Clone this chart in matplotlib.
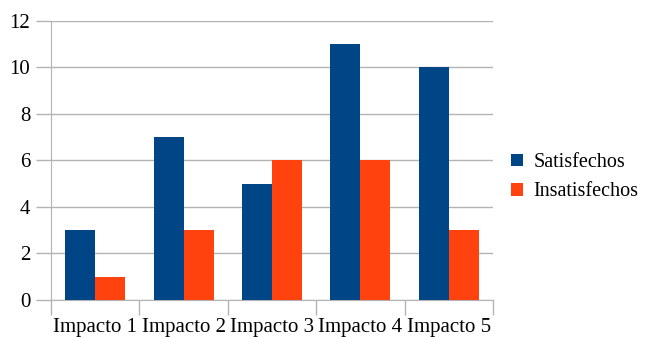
import matplotlib.pyplot as plt
import numpy as np

categories = ["Impacto 1", "Impacto 2", "Impacto 3", "Impacto 4", "Impacto 5"]
satisfechos = [3, 7, 5, 11, 10]
insatisfechos = [1, 3, 6, 6, 3]

plt.rcParams["font.family"] = ["Liberation Serif", "DejaVu Serif"]

fig = plt.figure(figsize=(6.47, 3.37), dpi=100)
ax = fig.add_axes([0.0788, 0.110, 0.683, 0.8277])

x = np.arange(len(categories))
w = 0.34
ax.bar(x - w / 2, satisfechos, w, color="#004586", label="Satisfechos", zorder=3)
ax.bar(x + w / 2, insatisfechos, w, color="#ff420e", label="Insatisfechos", zorder=3)

ax.set_xlim(-0.5, len(categories) - 0.5)
ax.set_ylim(0, 12)
ax.set_yticks(range(0, 13, 2))
ax.yaxis.grid(True, color="#b3b3b3", linewidth=1, zorder=0)

# category labels centered, boundary ticks below
ax.set_xticks(x)
ax.set_xticklabels(categories, fontsize=15)
ax.tick_params(axis="x", length=0, pad=13)
ax.set_xticks(np.arange(-0.5, len(categories), 1), minor=True)
ax.tick_params(axis="x", which="minor", length=11, color="#b3b3b3", width=1)
ax.tick_params(axis="y", length=11, color="#b3b3b3", width=1, labelsize=15, pad=4)

for s in ["top", "right"]:
    ax.spines[s].set_visible(False)
for s in ["left", "bottom"]:
    ax.spines[s].set_color("#b3b3b3")

ax.legend(loc="center left", bbox_to_anchor=(1.0, 0.44), frameon=False,
          fontsize=14.5, handlelength=0.6, handleheight=0.6, handletextpad=0.5,
          labelspacing=0.5)

plt.savefig("out.png", dpi=100)
